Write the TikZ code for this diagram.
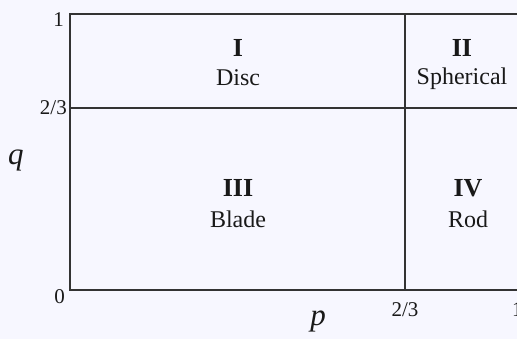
\documentclass[tikz,border=0pt]{standalone}
\usepackage{fontspec}
\setmainfont{Liberation Serif}
\begin{document}
\begin{tikzpicture}[x=1pt,y=-1pt,
  gridline/.style={draw=black!80, line width=1.4pt},
  romanlbl/.style={font=\fontsize{26}{30}\selectfont\bfseries, text=black!90, inner sep=0pt},
  shapelbl/.style={font=\fontsize{24}{28}\selectfont, text=black!90, inner sep=0pt},
  ticklbl/.style={font=\fontsize{21}{25}\selectfont, text=black!90, inner sep=0pt},
  axislbl/.style={font=\fontsize{31}{36}\selectfont\itshape, text=black!90, inner sep=0pt}]
\fill[white!97!blue] (0,0) rectangle (517,339);
\useasboundingbox (0,0) rectangle (517,339);
\coordinate (O) at (70,290);
\coordinate (T) at (70,14);
\coordinate (TR) at (517,14);
\coordinate (BR) at (517,290);
\coordinate (ML) at (70,108);
\coordinate (MR) at (517,108);
\coordinate (VT) at (405,14);
\coordinate (VB) at (405,290);
\draw[gridline] (TR) -- (T) -- (O) -- (BR);
\draw[gridline] (ML) -- (MR);
\draw[gridline] (VT) -- (VB);
\node[romanlbl] (r1) at (238,48) {I};
\node[shapelbl] (n1) at (238,78) {Disc};
\node[romanlbl] (r2) at (462,48) {II};
\node[shapelbl] (n2) at (462,79) {Spherical};
\node[romanlbl] (r3) at (238,188) {III};
\node[shapelbl] (n3) at (238,219) {Blade};
\node[romanlbl] (r4) at (468,188) {IV};
\node[shapelbl] (n4) at (468,219) {Rod};
\node[ticklbl, anchor=east] (y1) at (64,20) {1};
\node[ticklbl, anchor=east] (y23) at (67,108) {2/3};
\node[ticklbl, anchor=east] (y0) at (65,297) {0};
\node[ticklbl] (x23) at (405,310) {2/3};
\node[ticklbl, anchor=west] (x1) at (512,310) {1};
\node[axislbl] (q) at (16,160) {q};
\node[axislbl] (p) at (318,321) {p};
\end{tikzpicture}
\end{document}
